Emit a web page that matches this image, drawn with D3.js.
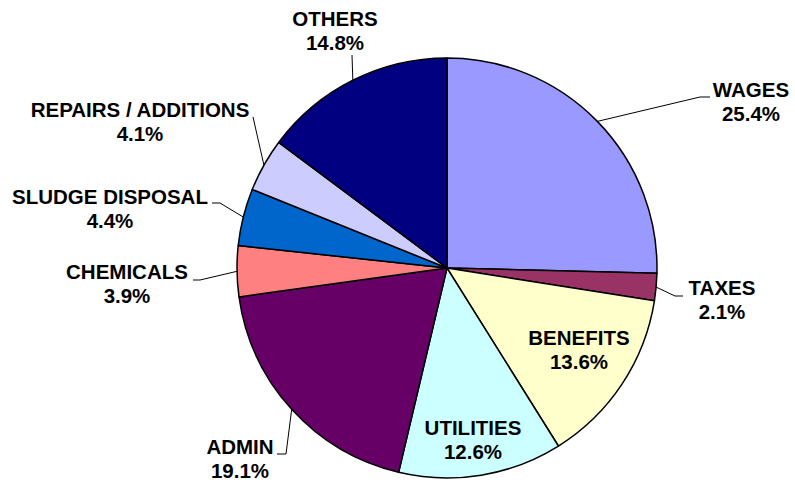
<!DOCTYPE html>
<html lang="en">
<head>
    <meta charset="UTF-8">
    <title>Cost Distribution Pie</title>
    <script src="https://d3js.org/d3.v7.min.js"></script>
    <style>
        body { margin: 0; background: white; }
        text { font-family: Arial, "Liberation Sans", sans-serif; font-weight: bold; }
    </style>
</head>
<body>
    <div id="chart"></div>
    <script>
        // Data, clockwise from 12 o'clock
        var categories = ["WAGES", "TAXES", "BENEFITS", "UTILITIES", "ADMIN", "CHEMICALS", "SLUDGE DISPOSAL", "REPAIRS / ADDITIONS", "OTHERS"];
        var shares = [25.4, 2.1, 13.6, 12.6, 19.1, 3.9, 4.4, 4.1, 14.8];
        var colors = ["#9999FF", "#993366", "#FFFFCC", "#CCFFFF", "#660066", "#FF8080", "#0066CC", "#CCCCFF", "#000080"];

        // Label layout: text centre x, first baseline y, and leader line points (start, elbow)
        var labelLayout = {
            "WAGES":               { x: 751, y: 97,  lead: [[710, 97], [700, 97]] },
            "TAXES":               { x: 722, y: 295, lead: [[683, 296], [675, 296]] },
            "BENEFITS":            { x: 579, y: 345 },
            "UTILITIES":           { x: 473, y: 435 },
            "ADMIN":               { x: 240, y: 454, lead: [[277, 454], [286, 454]] },
            "CHEMICALS":           { x: 127, y: 279, lead: [[193, 280], [200, 280]] },
            "SLUDGE DISPOSAL":     { x: 110, y: 204, lead: [[212, 203], [220, 203]] },
            "REPAIRS / ADDITIONS": { x: 140, y: 117, lead: [[253, 117], [253, 117]] },
            "OTHERS":              { x: 335, y: 26,  lead: [[352, 55], [352, 55]] }
        };

        var width = 795, height = 483;
        var cx = 447, cy = 268, radius = 210;

        var data = categories.map((c, i) => ({ label: c, value: shares[i], color: colors[i] }));

        var svg = d3.select("#chart").append("svg")
            .attr("width", width)
            .attr("height", height);

        var g = svg.append("g").attr("transform", `translate(${cx},${cy})`);

        var pie = d3.pie().sort(null).value(d => d.value);
        var arc = d3.arc().innerRadius(0).outerRadius(radius);
        var edge = d3.arc().innerRadius(radius).outerRadius(radius);

        var slices = pie(data);

        // Slices
        g.selectAll("path.slice")
            .data(slices)
            .enter().append("path")
            .attr("class", "slice")
            .attr("d", arc)
            .attr("fill", d => d.data.color)
            .attr("stroke", "#000")
            .attr("stroke-width", 1.5)
            .attr("stroke-linejoin", "round");

        // Leader lines from label to the slice's mid point on the rim
        slices.forEach(d => {
            var lay = labelLayout[d.data.label];
            if (!lay.lead) return;
            var p = edge.centroid(d);
            var pts = lay.lead.concat([[p[0] + cx, p[1] + cy]]);
            svg.append("path")
                .attr("d", d3.line()(pts))
                .attr("fill", "none")
                .attr("stroke", "#000")
                .attr("stroke-width", 1);
        });

        // Labels: name and percentage
        slices.forEach(d => {
            var lay = labelLayout[d.data.label];
            var t = svg.append("text")
                .attr("x", lay.x)
                .attr("y", lay.y)
                .attr("text-anchor", "middle")
                .style("font-size", "20.5px")
                .style("fill", "#000");
            t.append("tspan").attr("x", lay.x).text(d.data.label);
            t.append("tspan").attr("x", lay.x).attr("dy", 23.5).text(d.data.value.toFixed(1) + "%");
        });
    </script>
</body>
</html>
